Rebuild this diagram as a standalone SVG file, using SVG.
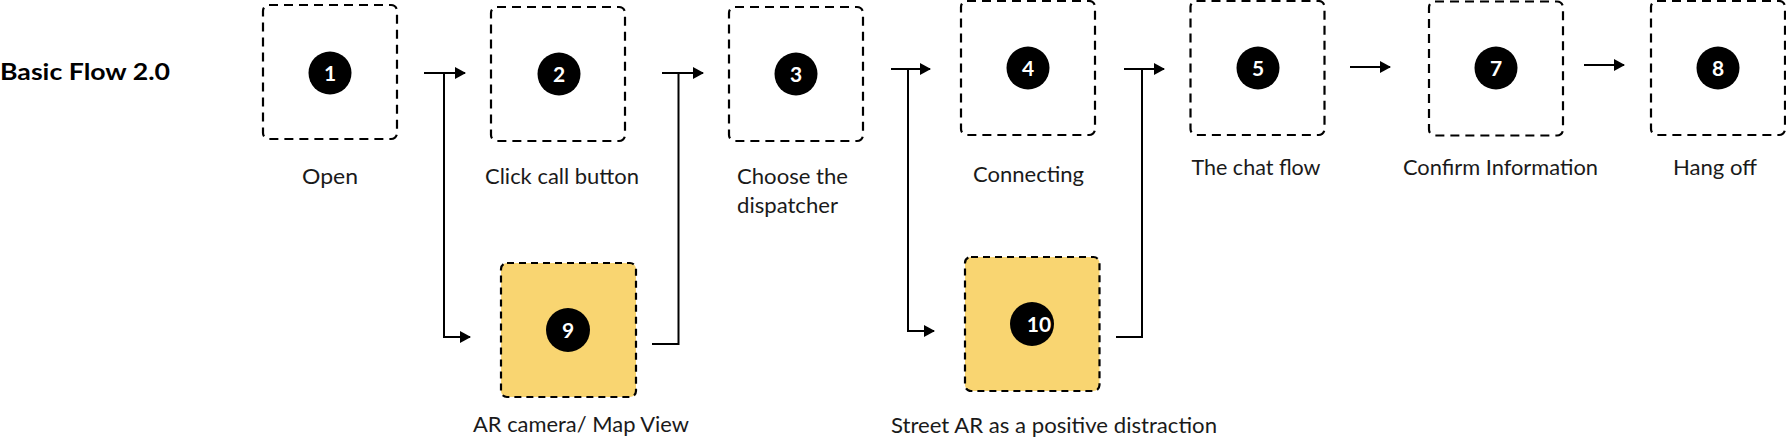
<svg xmlns="http://www.w3.org/2000/svg" width="1786" height="442" viewBox="0 0 1786 442">
<style>
.box{fill:#fff;stroke:#000;stroke-width:2.2;stroke-dasharray:9 6}
.alt{fill:#F9D571;stroke-dasharray:7 5}
.dot{fill:#000}
.num{font-family:Lato,"Open Sans",sans-serif;font-weight:700;font-size:21px;fill:#fff;text-anchor:middle}
.lbl{font-family:Lato,"Noto Sans",sans-serif;font-weight:400;font-size:21px;fill:#1a1a1a}
.mid{text-anchor:middle}
.con{fill:none;stroke:#000;stroke-width:2}
.title{font-family:Lato,"Noto Sans",sans-serif;font-weight:700;font-size:23px;fill:#000}
</style>
<defs>
<marker id="ah" markerUnits="userSpaceOnUse" markerWidth="11" markerHeight="12" refX="10" refY="6" orient="auto">
<path d="M0,0 L11,6 L0,12 z" fill="#000"/>
</marker>
</defs>
<text class="title" x="0" y="80" textLength="170" lengthAdjust="spacingAndGlyphs">Basic Flow 2.0</text>
<g id="connectors">
<path class="con" d="M424,73 H465" marker-end="url(#ah)"/>
<path class="con" d="M444,73 V337 H470" marker-end="url(#ah)"/>
<path class="con" d="M662,73 H703" marker-end="url(#ah)"/>
<path class="con" d="M652,344 H678.5 V73"/>
<path class="con" d="M891,69 H930" marker-end="url(#ah)"/>
<path class="con" d="M908,69 V331 H934" marker-end="url(#ah)"/>
<path class="con" d="M1124,69 H1164" marker-end="url(#ah)"/>
<path class="con" d="M1116,337 H1142 V69"/>
<path class="con" d="M1350,67 H1390" marker-end="url(#ah)"/>
<path class="con" d="M1584,65 H1624" marker-end="url(#ah)"/>
</g>
<g id="n1">
<rect class="box" x="263" y="5" width="134" height="134" rx="6"/>
<circle class="dot" cx="330" cy="73" r="21.5"/>
<text class="num" x="330" y="80.5">1</text>
<text class="lbl mid" x="330" y="184" textLength="56" lengthAdjust="spacingAndGlyphs">Open</text>
</g>
<g id="n2">
<rect class="box" x="491" y="7" width="134" height="134" rx="6"/>
<circle class="dot" cx="559" cy="74" r="21.5"/>
<text class="num" x="559" y="81.5">2</text>
<text class="lbl mid" x="562" y="184" textLength="154" lengthAdjust="spacingAndGlyphs">Click call button</text>
</g>
<g id="n3">
<rect class="box" x="729" y="7" width="134" height="134" rx="6"/>
<circle class="dot" cx="796" cy="74" r="21.5"/>
<text class="num" x="796" y="81.5">3</text>
<text class="lbl" x="737" y="184" textLength="111" lengthAdjust="spacingAndGlyphs">Choose the</text>
<text class="lbl" x="737" y="213" textLength="101" lengthAdjust="spacingAndGlyphs">dispatcher</text>
</g>
<g id="n4">
<rect class="box" x="961" y="1" width="134" height="134" rx="6"/>
<circle class="dot" cx="1028" cy="68" r="21.5"/>
<text class="num" x="1028" y="75.5">4</text>
<text class="lbl mid" x="1028.5" y="182" textLength="111" lengthAdjust="spacingAndGlyphs">Connecting</text>
</g>
<g id="n5">
<rect class="box" x="1190.5" y="1" width="134" height="134" rx="6"/>
<circle class="dot" cx="1258" cy="68" r="21.5"/>
<text class="num" x="1258" y="75.5">5</text>
<text class="lbl mid" x="1256" y="175" textLength="129" lengthAdjust="spacingAndGlyphs">The chat flow</text>
</g>
<g id="n7">
<rect class="box" x="1429" y="1.5" width="134" height="134" rx="6"/>
<circle class="dot" cx="1496" cy="68" r="21.5"/>
<text class="num" x="1496" y="75.5">7</text>
<text class="lbl mid" x="1500.5" y="175" textLength="195" lengthAdjust="spacingAndGlyphs">Confirm Information</text>
</g>
<g id="n8">
<rect class="box" x="1651" y="1" width="134" height="134" rx="6"/>
<circle class="dot" cx="1718" cy="68" r="21.5"/>
<text class="num" x="1718" y="75.5">8</text>
<text class="lbl mid" x="1715" y="175" textLength="84" lengthAdjust="spacingAndGlyphs">Hang off</text>
</g>
<g id="n9">
<rect class="box alt" x="501" y="263" width="135" height="134" rx="6"/>
<circle class="dot" cx="568" cy="330" r="22"/>
<text class="num" x="568" y="337.5">9</text>
<text class="lbl mid" x="581" y="432" textLength="216" lengthAdjust="spacingAndGlyphs">AR camera/ Map View</text>
</g>
<g id="n10">
<rect class="box alt" x="965" y="257" width="134.5" height="134" rx="6"/>
<circle class="dot" cx="1032" cy="324" r="22"/>
<text class="num" x="1039" y="331.5">10</text>
<text class="lbl mid" x="1054" y="433" textLength="326" lengthAdjust="spacingAndGlyphs">Street AR as a positive distraction</text>
</g>
</svg>
